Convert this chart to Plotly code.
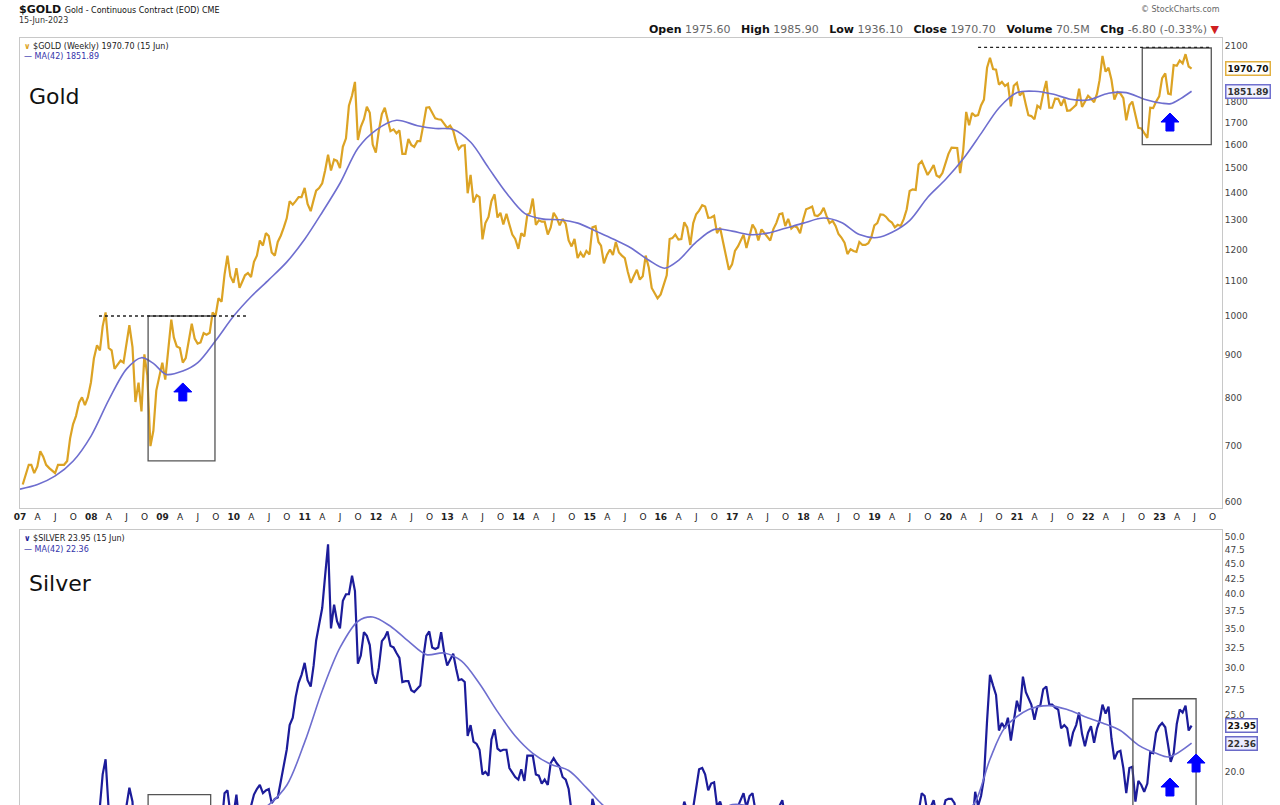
import math
import calendar
import plotly.graph_objects as go

# ---------------- data ----------------
# semi-monthly closes (15th and month end), Jan 2007 .. 15 Jun 2023
GOLD = [
    630, 650, 665, 665, 650, 662, 690, 680, 665, 659, 655, 650, 665, 665, 665, 672, 715, 743, 760, 789, 800, 783, 800, 834,  # 2007
    890, 923, 910, 972, 1010, 916, 910, 865, 875, 885, 880, 930, 975, 918, 790, 833, 770, 900, 850, 700, 730, 815, 850, 880,  # 2008
    840, 925, 990, 943, 920, 916, 880, 891, 930, 979, 940, 927, 930, 954, 950, 955, 1010, 1000, 1050, 1040, 1120, 1180, 1115, 1095,  # 2009
    1140, 1080, 1100, 1118, 1125, 1113, 1160, 1180, 1230, 1213, 1255, 1245, 1190, 1180, 1225, 1247, 1275, 1307, 1370, 1357, 1370, 1385, 1385, 1421,  # 2010
    1360, 1333, 1375, 1410, 1420, 1439, 1490, 1556, 1490, 1536, 1530, 1500, 1590, 1628, 1780, 1830, 1900, 1620, 1680, 1715, 1775, 1746, 1600, 1565,  # 2011
    1660, 1740, 1770, 1710, 1660, 1668, 1650, 1664, 1560, 1560, 1625, 1598, 1590, 1615, 1615, 1690, 1770, 1773, 1745, 1719, 1715, 1713, 1695, 1675,  # 2012
    1685, 1662, 1610, 1580, 1595, 1597, 1400, 1472, 1365, 1393, 1385, 1234, 1290, 1312, 1370, 1396, 1310, 1327, 1285, 1323, 1285, 1250, 1235, 1202,  # 2013
    1255, 1244, 1320, 1326, 1380, 1284, 1300, 1295, 1295, 1250, 1275, 1327, 1310, 1282, 1305, 1287, 1230, 1210, 1235, 1172, 1190, 1175, 1195, 1184,  # 2014
    1275, 1279, 1225, 1213, 1155, 1183, 1200, 1182, 1225, 1190, 1180, 1172, 1130, 1095, 1115, 1135, 1105, 1115, 1180, 1142, 1080, 1065, 1050, 1061,  # 2015
    1090, 1118, 1235, 1238, 1250, 1233, 1235, 1293, 1275, 1215, 1290, 1322, 1335, 1355, 1350, 1309, 1310, 1316, 1255, 1274, 1225, 1173, 1135, 1152,  # 2016
    1195, 1211, 1235, 1250, 1205, 1249, 1285, 1268, 1230, 1268, 1255, 1242, 1230, 1269, 1290, 1322, 1325, 1280, 1305, 1271, 1280, 1275, 1255, 1303,  # 2017
    1340, 1345, 1350, 1318, 1315, 1325, 1345, 1315, 1290, 1298, 1280, 1252, 1240, 1223, 1185, 1201, 1195, 1192, 1225, 1215, 1215, 1221, 1240, 1282,  # 2018
    1290, 1321, 1320, 1313, 1300, 1292, 1275, 1284, 1280, 1305, 1340, 1409, 1415, 1413, 1515, 1529, 1500, 1472, 1490, 1513, 1470, 1463, 1480, 1517,  # 2019
    1560, 1587, 1585, 1585, 1480, 1577, 1750, 1687, 1745, 1730, 1735, 1781, 1810, 1975, 2030, 1968, 1965, 1886, 1900, 1879, 1890, 1777, 1880, 1895,  # 2020
    1830, 1850, 1785, 1734, 1730, 1715, 1780, 1768, 1840, 1905, 1770, 1770, 1815, 1814, 1780, 1814, 1755, 1757, 1770, 1784, 1865, 1774, 1800, 1829,  # 2021
    1815, 1797, 1840, 1909, 2040, 1954, 1975, 1911, 1810, 1848, 1840, 1817, 1710, 1782, 1800, 1726, 1675, 1672, 1650, 1630, 1770, 1768, 1800, 1826,  # 2022
    1920, 1945, 1840, 1836, 1990, 1986, 2015, 1999, 2050, 1982, 1970.7,  # 2023
]

SILVER = [
    12.9, 13.4, 14.2, 14.2, 13.3, 13.4, 13.8, 13.4, 13.4, 13.3, 13.0, 12.8, 12.9, 12.9, 12.2, 12.0, 12.8, 13.8, 13.9, 14.2, 14.6, 14.2, 14.0, 14.8,  # 2007
    15.8, 16.8, 17.5, 19.8, 21.0, 17.2, 17.5, 16.7, 17.0, 16.9, 17.3, 17.5, 18.8, 17.8, 13.5, 13.7, 10.8, 12.9, 11.5, 9.8, 9.5, 10.2, 10.5, 11.3,  # 2008
    11.0, 12.6, 13.5, 13.0, 13.0, 13.2, 12.3, 12.6, 14.2, 15.7, 15.2, 13.6, 13.2, 14.0, 14.7, 14.9, 16.6, 16.6, 17.5, 16.2, 18.4, 18.6, 17.0, 16.9,  # 2009
    18.3, 16.2, 15.8, 16.5, 17.2, 17.5, 18.3, 18.7, 19.0, 18.4, 18.6, 18.7, 17.7, 18.0, 18.1, 19.3, 20.7, 21.8, 24.0, 24.7, 26.8, 28.3, 29.2, 30.6,  # 2010
    28.6, 27.9, 30.3, 33.4, 35.5, 37.9, 43.0, 48.6, 35.0, 38.4, 36.0, 35.0, 39.0, 40.0, 40.0, 43.0, 40.5, 30.5, 31.5, 34.5, 34.0, 32.8, 29.3, 28.2,  # 2011
    30.0, 33.3, 33.8, 34.6, 32.7, 32.5, 31.8, 31.2, 28.4, 28.5, 28.5, 27.5, 27.3, 27.7, 28.0, 31.3, 34.0, 34.6, 32.5, 32.3, 32.5, 34.5, 32.0, 30.3,  # 2012
    31.0, 31.7, 29.9, 28.6, 28.7, 28.4, 23.0, 24.0, 22.5, 22.3, 21.8, 19.8, 20.0, 19.7, 22.7, 23.6, 21.9, 21.7, 21.8, 21.8, 20.3, 19.9, 19.6, 19.4,  # 2013
    20.2, 19.3, 21.3, 21.3, 21.3, 19.8, 19.7, 19.1, 19.4, 19.0, 20.7, 21.1, 20.7, 20.4, 19.6, 19.4, 18.7, 17.1, 17.3, 16.3, 15.5, 15.5, 16.0, 15.8,  # 2014
    18.0, 17.2, 16.4, 16.6, 15.8, 16.6, 16.3, 16.3, 17.3, 16.8, 16.0, 15.7, 14.8, 14.7, 15.3, 14.6, 15.1, 14.5, 15.8, 14.7, 14.3, 14.1, 13.9, 13.9,  # 2015
    14.2, 14.3, 15.2, 14.8, 15.7, 15.4, 16.8, 17.8, 17.2, 16.0, 17.4, 18.7, 20.2, 20.3, 19.8, 18.6, 19.1, 19.2, 17.5, 17.8, 17.1, 16.5, 15.9, 15.9,  # 2016
    16.9, 17.5, 18.0, 18.4, 17.4, 18.2, 18.4, 17.2, 16.9, 17.4, 16.8, 16.6, 16.3, 16.7, 16.9, 17.5, 17.9, 16.7, 17.2, 16.7, 17.0, 16.5, 15.9, 16.9,  # 2017
    17.2, 17.4, 16.8, 16.4, 16.5, 16.3, 16.8, 16.3, 16.3, 16.4, 17.0, 16.1, 15.6, 15.5, 14.8, 14.5, 14.2, 14.7, 14.7, 14.3, 14.3, 14.2, 14.6, 15.5,  # 2018
    15.5, 16.1, 15.8, 15.9, 15.3, 15.1, 15.0, 14.9, 14.6, 14.4, 14.9, 15.3, 16.2, 16.4, 17.1, 18.4, 18.2, 17.0, 17.4, 17.9, 16.9, 17.0, 17.0, 17.9,  # 2019
    18.0, 18.0, 17.7, 16.5, 12.5, 14.0, 15.0, 15.0, 16.0, 18.5, 17.5, 18.2, 19.5, 24.4, 29.2, 28.0, 27.0, 23.5, 24.2, 23.7, 24.7, 22.6, 24.5, 26.4,  # 2020
    25.3, 29.0, 27.3, 26.7, 26.0, 24.5, 25.8, 25.9, 27.6, 27.9, 26.0, 26.0, 25.7, 25.5, 23.7, 24.0, 23.7, 22.1, 23.3, 24.0, 25.2, 23.2, 22.1, 23.3,  # 2021
    23.9, 22.4, 23.7, 24.4, 26.0, 25.1, 25.8, 22.8, 21.0, 21.6, 21.7, 20.3, 18.4, 20.3, 20.4, 17.8, 19.3, 19.0, 18.5, 19.1, 21.6, 21.5, 23.3, 23.9,  # 2022
    24.2, 23.8, 21.9, 20.8, 21.5, 24.1, 25.5, 25.2, 25.9, 23.5, 23.95,  # 2023
]

GOLD_MA_DATES = [
    "2007-01-01", "2007-04-01", "2007-07-01", "2007-10-01", "2008-01-01", "2008-04-01", "2008-07-01",
    "2008-09-15", "2008-11-15", "2009-01-20", "2009-04-15", "2009-07-01", "2009-10-01", "2010-01-01",
    "2010-04-01", "2010-07-01", "2010-10-01", "2011-01-01", "2011-04-01", "2011-07-01", "2011-10-01",
    "2012-01-01", "2012-04-15", "2012-08-01", "2012-11-01", "2013-02-01", "2013-05-01", "2013-08-01",
    "2013-11-01", "2014-02-01", "2014-05-01", "2014-08-01", "2014-11-01", "2015-02-01", "2015-05-01",
    "2015-08-01", "2015-11-01", "2016-01-20", "2016-04-01", "2016-07-01", "2016-10-01", "2017-01-01",
    "2017-04-01", "2017-07-01", "2017-10-01", "2018-01-01", "2018-04-15", "2018-07-15", "2018-10-15",
    "2019-01-15", "2019-04-01", "2019-07-01", "2019-10-01", "2020-01-01", "2020-04-01", "2020-07-01",
    "2020-10-01", "2021-01-01", "2021-04-01", "2021-07-01", "2021-10-01", "2022-01-01", "2022-04-15",
    "2022-07-15", "2022-10-15", "2023-01-15", "2023-03-01", "2023-04-20", "2023-06-15",
]
GOLD_MA = [
    622, 630, 645, 672, 720, 795, 865,
    892, 878, 852, 860, 880, 935, 1000,
    1055, 1105, 1160, 1235, 1330, 1440, 1585,
    1665, 1710, 1685, 1672, 1668, 1610, 1500,
    1400, 1325, 1305, 1302, 1290, 1262, 1235,
    1205, 1165, 1140, 1165, 1225, 1268, 1262,
    1250, 1255, 1272, 1290, 1308, 1292, 1250,
    1240, 1258, 1300, 1385, 1455, 1540, 1650,
    1770, 1845, 1852, 1838, 1812, 1808, 1842,
    1845, 1812, 1792, 1790, 1815, 1851.89,
]

SILVER_MA_DATES = [
    "2007-01-01", "2007-04-01", "2007-07-01", "2007-10-01", "2008-01-01", "2008-04-01", "2008-07-01",
    "2008-10-01", "2009-01-01", "2009-04-01", "2009-07-01", "2009-10-01", "2010-01-01", "2010-04-01",
    "2010-07-01", "2010-10-01", "2011-01-01", "2011-04-01", "2011-07-01", "2011-10-01", "2011-12-15",
    "2012-03-15", "2012-06-15", "2012-09-15", "2012-12-15", "2013-03-15", "2013-06-15", "2013-09-15",
    "2013-12-15", "2014-03-15", "2014-06-15", "2014-09-15", "2014-12-15", "2015-03-15", "2015-07-01",
    "2016-01-01", "2016-07-01", "2017-01-01", "2017-07-01", "2018-01-01", "2018-07-01", "2019-01-01",
    "2019-07-01", "2020-01-01", "2020-04-01", "2020-06-01", "2020-08-15", "2020-11-01", "2021-03-01",
    "2021-06-15", "2021-09-15", "2021-12-15", "2022-03-15", "2022-06-15", "2022-09-15", "2022-12-15",
    "2023-02-20", "2023-06-15",
]
SILVER_MA = [
    12.0, 12.9, 13.3, 13.2, 13.9, 15.5, 16.8,
    16.0, 13.8, 12.4, 13.2, 14.8, 15.8, 16.8,
    17.6, 19.0, 22.5, 27.5, 32.5, 36.0, 36.6,
    35.3, 33.3, 31.6, 31.8, 30.8, 28.2, 25.3,
    23.0, 21.5, 20.6, 20.1, 18.8, 17.5, 16.6,
    15.2, 16.0, 17.6, 17.2, 16.9, 16.4, 15.0,
    15.2, 17.0, 17.0, 17.8, 21.0, 23.8, 25.5,
    25.9, 25.5, 24.8, 24.2, 23.5, 22.2, 21.5,
    21.2, 22.36,
]

# 1900 / 2000 sit under the value tags in the reference, so they are not shown
GOLD_TICKS = [600, 700, 800, 900, 1000, 1100, 1200, 1300, 1400, 1500, 1600, 1700, 1800, 2100]
SILVER_TICKS = [17.5, 20.0, 25.0, 27.5, 30.0, 32.5, 35.0, 37.5, 40.0, 42.5, 45.0, 47.5, 50.0]
QUARTER_LETTERS = ["", "A", "J", "O"]
YEARS = list(range(2007, 2024))

# ---------------- helpers ----------------
def semi_monthly_dates(n):
    out = []
    y, m = 2007, 1
    while len(out) < n:
        out.append(f"{y}-{m:02d}-15")
        if len(out) < n:
            out.append(f"{y}-{m:02d}-{calendar.monthrange(y, m)[1]}")
        m += 1
        if m > 12:
            m, y = 1, y + 1
    return out

DATES = semi_monthly_dates(len(GOLD))

W, H = 1280, 805
ML, MR = 20, 58
PW = W - ML - MR


def px(x):
    return (x - ML) / PW


def py(y):
    return 1 - y / H


tickvals, ticktext = [], []
for yr in YEARS:
    for qi, mon in enumerate([1, 4, 7, 10]):
        tickvals.append(f"{yr}-{mon:02d}-01")
        ticktext.append(f"<b>{yr % 100:02d}</b>" if qi == 0 else QUARTER_LETTERS[qi])

GOLD_C = "#DCA324"
MA_C = "#6E6ECF"
SILVER_C = "#1C1C9A"
FONT = "DejaVu Sans"

fig = go.Figure()
fig.add_trace(go.Scatter(x=DATES, y=GOLD, mode="lines", line=dict(color=GOLD_C, width=2.2),
                         xaxis="x", yaxis="y", hoverinfo="skip"))
fig.add_trace(go.Scatter(x=GOLD_MA_DATES, y=GOLD_MA, mode="lines",
                         line=dict(color=MA_C, width=1.6, shape="spline", smoothing=0.9),
                         xaxis="x", yaxis="y", hoverinfo="skip"))
fig.add_trace(go.Scatter(x=DATES, y=SILVER, mode="lines", line=dict(color=SILVER_C, width=2.2),
                         xaxis="x2", yaxis="y2", hoverinfo="skip"))
fig.add_trace(go.Scatter(x=SILVER_MA_DATES, y=SILVER_MA, mode="lines",
                         line=dict(color=MA_C, width=1.6, shape="spline", smoothing=0.9),
                         xaxis="x2", yaxis="y2", hoverinfo="skip"))

XR = ["2007-01-01", "2023-11-18"]
gold_dom = [py(508), py(38)]
silver_dom = [0, py(530)]
gold_rng = [math.log10(590.7), math.log10(2143)]
silver_rng = [math.log10(17.57), math.log10(51.4)]

axis_line = dict(showline=True, linecolor="#C8C8C8", linewidth=1, mirror=True, showgrid=False,
                 zeroline=False)
fig.update_layout(
    width=W, height=H,
    margin=dict(l=ML, r=MR, t=0, b=0, autoexpand=False),
    paper_bgcolor="white", plot_bgcolor="white",
    showlegend=False,
    font=dict(family=FONT, size=9, color="#333"),
    xaxis=dict(type="date", range=XR, domain=[0, 1], anchor="y", tickmode="array",
               tickvals=tickvals, ticktext=ticktext, ticks="", ticklen=0,
               tickfont=dict(size=9, color="#222"), **axis_line),
    yaxis=dict(type="log", range=gold_rng, domain=gold_dom, side="right", anchor="x",
               tickmode="array", tickvals=GOLD_TICKS, ticktext=[str(t) for t in GOLD_TICKS],
               ticks="", tickfont=dict(size=9, color="#444"), **axis_line),
    xaxis2=dict(type="date", range=XR, domain=[0, 1], anchor="y2", matches="x",
                showticklabels=False, ticks="", **axis_line),
    yaxis2=dict(type="log", range=silver_rng, domain=silver_dom, side="right", anchor="x2",
                tickmode="array", tickvals=SILVER_TICKS, ticktext=[f"{t:.1f}" for t in SILVER_TICKS],
                ticks="", tickfont=dict(size=9, color="#444"), **axis_line),
)

shapes = []
box_line = dict(color="#555", width=1.3)
# gold boxes and resistance lines
shapes.append(dict(type="rect", xref="x", yref="y", x0="2008-10-19", x1="2009-09-27", y0=672, y1=1000, line=box_line))
shapes.append(dict(type="line", xref="x", yref="y", x0="2008-02-10", x1="2010-03-10", y0=1000, y1=1000,
                   line=dict(color="#222", width=1.3, dash="dot")))
shapes.append(dict(type="rect", xref="x", yref="y", x0="2022-10-05", x1="2023-09-24", y0=1600, y1=2085, line=box_line))
shapes.append(dict(type="line", xref="x", yref="y", x0="2020-06-15", x1="2023-09-28", y0=2089, y1=2089,
                   line=dict(color="#222", width=1.3, dash="dot")))
# silver boxes
shapes.append(dict(type="rect", xref="x2", yref="y2", x0="2008-10-19", x1="2009-09-05", y0=10, y1=18.3, line=box_line))
shapes.append(dict(type="rect", xref="x2", yref="y2", x0="2022-08-18", x1="2023-07-08", y0=10, y1=26.6, line=box_line))

ARROW = "M 0 9 L 9 0 L 4 0 L 4 -9 L -4 -9 L -4 0 L -9 0 Z"
for xr, yr, xa, ya in [("x", "y", "2009-04-15", 812), ("x", "y", "2023-02-24", 1702),
                       ("x2", "y2", "2023-02-24", 18.85), ("x2", "y2", "2023-07-08", 20.7)]:
    shapes.append(dict(type="path", xref=xr, yref=yr, xsizemode="pixel", ysizemode="pixel",
                       xanchor=xa, yanchor=ya, path=ARROW, fillcolor="#0000FF",
                       line=dict(color="#0000FF", width=1)))
fig.update_layout(shapes=shapes)

ann = []


def text(x, y, t, size=9, color="#222", xanchor="left", **kw):
    ann.append(dict(x=px(x), y=py(y), xref="paper", yref="paper", text=t, showarrow=False,
                    xanchor=xanchor, yanchor="middle", font=dict(family=FONT, size=size, color=color), **kw))


SP = "&nbsp;&nbsp;&nbsp;"
text(17, 9, "<b>$GOLD</b> <span style='font-size:8px'>Gold - Continuous Contract (EOD) CME</span>", size=11, color="#111")
text(17, 20, "15-Jun-2023", size=8, color="#333")
text(1222, 9, "© StockCharts.com", size=8, color="#666", xanchor="right")
text(1222, 29, f"<b>Open</b> <span style='color:#666'>1975.60</span>{SP}<b>High</b> <span style='color:#666'>1985.90</span>{SP}"
               f"<b>Low</b> <span style='color:#666'>1936.10</span>{SP}<b>Close</b> <span style='color:#666'>1970.70</span>{SP}"
               f"<b>Volume</b> <span style='color:#666'>70.5M</span>{SP}<b>Chg</b> <span style='color:#666'>-6.80 (-0.33%)</span> "
               "<span style='color:#D02020'>▼</span>", size=11, color="#111", xanchor="right")
# legends
text(22, 46, f"<span style='color:{GOLD_C}'><b>∨</b></span> $GOLD (Weekly) 1970.70 (15 Jun)", size=8, color="#222")
text(22, 57, "— MA(42) 1851.89", size=8, color="#3333AA")
text(22, 538, f"<span style='color:{SILVER_C}'><b>∨</b></span> $SILVER 23.95 (15 Jun)", size=8, color="#222")
text(22, 549, "— MA(42) 22.36", size=8, color="#3333AA")
# panel titles
text(27, 97, "Gold", size=22, color="#111")
text(27, 583, "Silver", size=22, color="#111")

# right-side value tags
for yref, val, lab, border, fc, bg in [
    ("y", 1970.70, "1970.70", "#E2B040", "#111", "#FFFFFF"),
    ("y", 1851.89, "1851.89", "#7070CF", "#333", "#F2F2FF"),
    ("y2", 23.95, "23.95", "#6A6AC8", "#111", "#FFFFFF"),
    ("y2", 22.36, "22.36", "#6A6AC8", "#333", "#ECECFF"),
]:
    ann.append(dict(x=1, xref="paper", y=math.log10(val), yref=yref, text=f"<b>{lab}</b>", showarrow=False,
                    xanchor="left", yanchor="middle", xshift=3, bgcolor=bg, bordercolor=border,
                    borderwidth=1.5, borderpad=1, font=dict(family=FONT, size=9, color=fc)))

fig.update_layout(annotations=ann)
fig.write_html("out.html")
